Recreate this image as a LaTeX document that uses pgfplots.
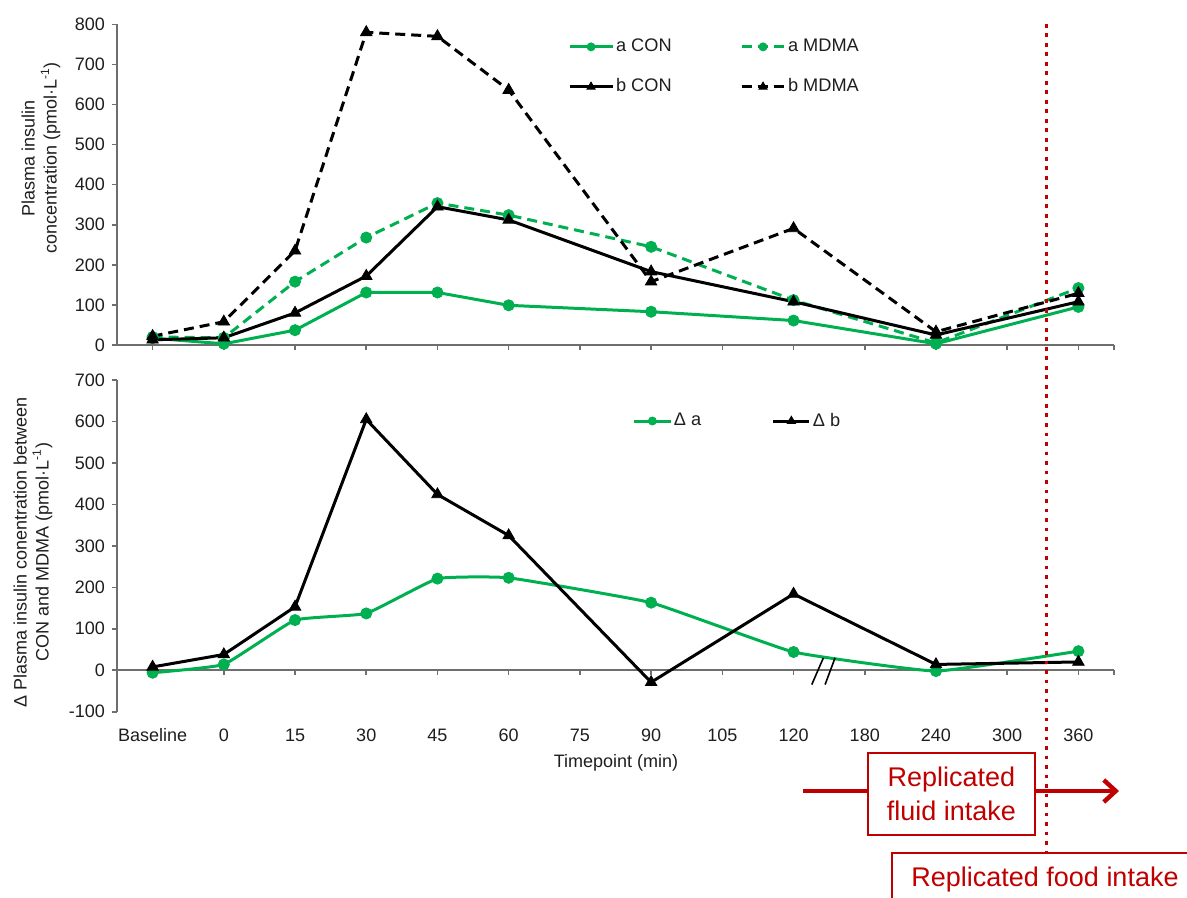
\documentclass[border=0pt]{standalone}
\usepackage{fontspec}
\setmainfont{Liberation Sans}
\usepackage{pgfplots}
\usepackage{pgfplotstable}
\pgfplotsset{compat=1.18}
\usetikzlibrary{arrows.meta}
\definecolor{xgreen}{RGB}{0,176,80}
\definecolor{xred}{RGB}{192,0,0}
\definecolor{axgray}{RGB}{110,110,110}
\definecolor{txt}{RGB}{30,30,30}

% x index: 0=Baseline,1=0,2=15,3=30,4=45,5=60,7=90,9=120,11=240,13=360
\pgfplotstableread{
x aCON aMDMA bCON bMDMA da db
0  17  20  13  22  -6   8
1   3  18  18  58  14  38
2  37 158  80 235 121 153
3 131 268 172 780 137 605
4 131 354 345 770 221 424
5  99 324 312 636 223 325
7  83 245 183 158 163 -29
9  61 112 108 291  44 184
11  3   5  25  33  -2  14
13 95 142 108 129  46  20
}\data

\pgfplotsset{
  mybase/.style={
    scale only axis, width=498.5pt,
    xmin=-0.5, xmax=13.5,
    xtick={0,...,13},
    extra x ticks={13.5}, extra x tick labels={},
    axis y line*=left,
    tick align=outside, major tick length=2.5pt,
    axis line style={draw=axgray, line width=0.8pt},
    every tick/.style={draw=axgray, line width=0.8pt},
    ticklabel style={font=\fontsize{9}{11}\selectfont, text=txt},
    /pgf/number format/assume math mode=true,
    ylabel style={font=\fontsize{9}{11}\selectfont, text=txt, align=center},
    xlabel style={font=\fontsize{9}{11}\selectfont, text=txt},
    clip=false,
    legend cell align=left,
    legend image code/.code={
      \draw[mark repeat=2,mark phase=2,every mark/.append style={scale=0.72}]
      plot coordinates {(0pt,0pt) (10.75pt,0pt) (21.5pt,0pt)};
    },
  },
  gline/.style={xgreen, line width=1.5pt, mark=*, mark size=2.8pt,
    mark options={solid, fill=xgreen, draw=xgreen, line width=0.4pt}},
  bline/.style={black, line width=1.5pt, mark=triangle*, mark size=3.3pt,
    mark options={solid, fill=black, draw=black, line width=0.4pt}},
  dsh/.style={dash pattern=on 5pt off 3pt},
}

\begin{document}
\begin{tikzpicture}
\path[use as bounding box] (0,0) rectangle (593.5pt,-449pt);

% top panel
\begin{axis}[mybase,
  at={(58.5pt,-172.5pt)}, anchor=south west,
  height=160.35pt,
  ymin=0, ymax=800, ytick={0,100,...,800},
  axis x line*=bottom,
  xticklabel style={opacity=0},
  ylabel={Plasma insulin\\concentration (pmol·L\textsuperscript{-1})},
  ylabel style={at={(axis description cs:-0.0762,0.583)}, anchor=center},
  legend columns=2,
  legend style={draw=none, fill=none, inner sep=0pt,
    at={(axis description cs:0.452,0.867)}, anchor=west,
    row sep=10pt,
    nodes={inner sep=1pt, font=\fontsize{9.1}{11}\selectfont, text=txt}},
]
\addplot[gline] table[x=x,y=aCON]{\data};
\addlegendentry{\makebox[61pt][l]{a CON}}
\addplot[gline,dsh] table[x=x,y=aMDMA]{\data};
\addlegendentry{a MDMA}
\addplot[bline] table[x=x,y=bCON]{\data};
\addlegendentry{\makebox[61pt][l]{b CON}}
\addplot[bline,dsh] table[x=x,y=bMDMA]{\data};
\addlegendentry{b MDMA}
\end{axis}

% bottom panel
\begin{axis}[mybase,
  at={(58.5pt,-355.85pt)}, anchor=south west,
  height=165.85pt,
  ymin=-100, ymax=700, ytick={-100,0,...,700},
  axis x line*=middle,
  xticklabels={Baseline,0,15,30,45,60,75,90,105,120,180,240,300,360},
  xticklabel style={anchor=base, yshift=-33.2pt},
  xlabel={Timepoint (min)},
  xlabel style={at={(axis description cs:0.5005,-0.1536)}, anchor=center},
  ylabel={Δ Plasma insulin conentration between\\CON and MDMA (pmol·L\textsuperscript{-1})},
  ylabel style={at={(axis description cs:-0.0843,0.481)}, anchor=center},
  legend columns=2,
  legend image code/.code={
    \draw[mark repeat=2,mark phase=2,every mark/.append style={scale=0.72}]
    plot coordinates {(0pt,0pt) (9pt,0pt) (18pt,0pt)};
  },
  legend style={draw=none, fill=none, inner sep=0pt,
    at={(axis description cs:0.517,0.8764)}, anchor=west,
    nodes={inner sep=1pt, font=\fontsize{9.1}{11}\selectfont, text=txt}},
]
\addplot[gline, smooth, tension=0.2] table[x=x,y=da]{\data};
\addlegendentry{\makebox[48pt][l]{Δ a}}
\addplot[bline] table[x=x,y=db]{\data};
\addlegendentry{Δ b}
\draw[black, line width=0.8pt] (axis cs:9.256,-34.5) -- (axis cs:9.419,29.9);
\draw[black, line width=0.8pt] (axis cs:9.443,-34.5) -- (axis cs:9.583,29.9);
\end{axis}

% annotations (pixel coordinates)
\begin{scope}[x=0.5pt, y=-0.5pt]
\draw[xred, line width=1.8pt, dash pattern=on 1.8pt off 2.95pt] (1046.5,24) -- (1046.5,853);
\draw[xred, line width=2.2pt, -{Straight Barb[length=6pt, width=11pt]}] (803,791) -- (1119,791);
\draw[xred, line width=0.9pt, fill=white] (867.7,753.3) rectangle (1035,835);
\node[xred, align=center, font=\fontsize{13.5}{17}\selectfont] at (951.4,794) {Replicated\\fluid intake};
\draw[xred, line width=0.9pt, fill=white] (891.7,853.3) rectangle (1200,912);
\node[xred, anchor=base, font=\fontsize{13.5}{17}\selectfont] at (1045,886.7) {Replicated food intake};
\end{scope}
\end{tikzpicture}
\end{document}
